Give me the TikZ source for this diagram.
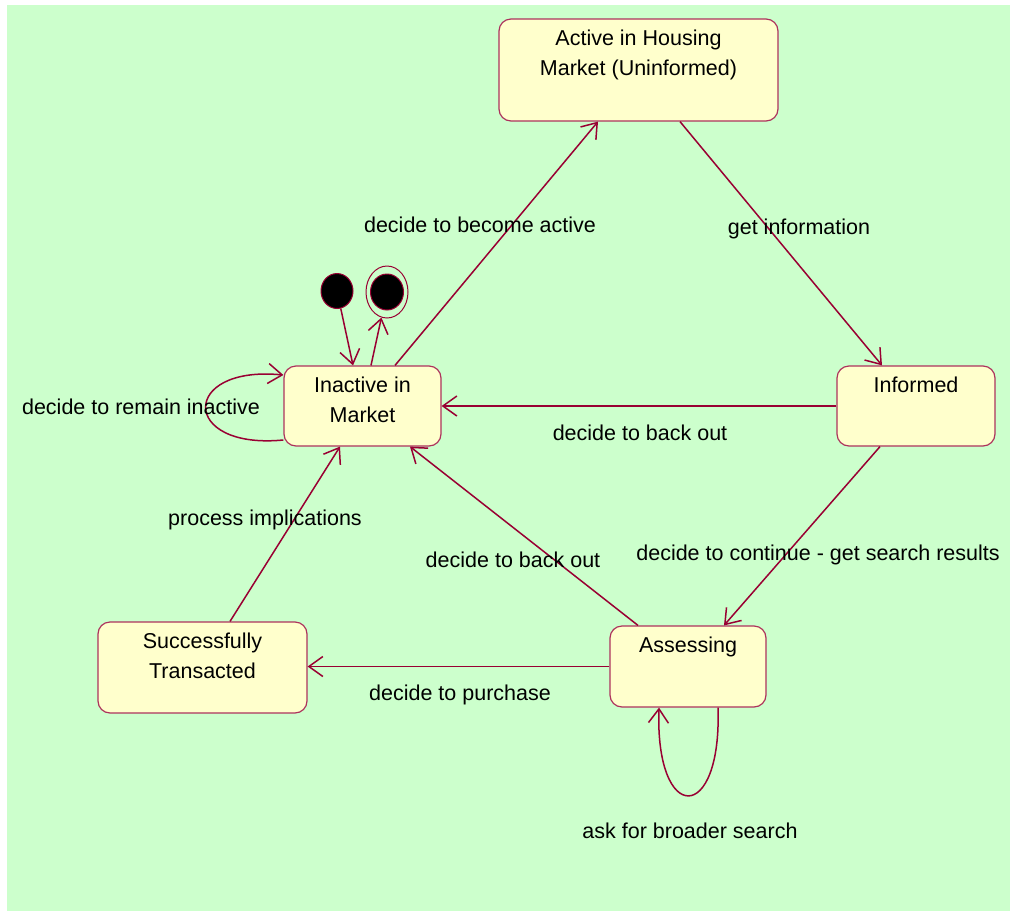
\documentclass[tikz,border=0pt]{standalone}
\usepackage{fontspec}
\setmainfont{Liberation Sans}
\usetikzlibrary{arrows.meta,calc,positioning,shapes.geometric}
\definecolor{bggreen}{RGB}{204,255,204}
\definecolor{statefill}{RGB}{255,255,204}
\definecolor{edgered}{RGB}{153,0,51}
\newcommand{\stbox}[3]{\parbox[t][#2pt][t]{#1pt}{\centering\rule{0pt}{26pt}#3}}

\begin{document}
\begin{tikzpicture}[x=1pt,y=-1pt,
    state/.style={draw=edgered!80!white,fill=statefill,rounded corners=12pt,inner sep=0pt,line width=1.2pt},
    trans/.style={edgered,line width=1.5pt,-{Straight Barb[length=14pt,width=20pt,line width=1.5pt]}},
    lbl/.style={text height=15pt,text depth=4pt,inner sep=0pt},
    font=\fontsize{21.5}{30}\selectfont]
    \useasboundingbox (0,0) rectangle (1010,911);
    \fill[bggreen] (7,5) rectangle (1010,911);
    % states
    \node[state] (active) at (638.5,70) {\stbox{279}{102}{Active in Housing\\Market (Uninformed)}};
    \node[state] (inactive) at (362.5,406) {\stbox{157}{80}{Inactive in\\Market}};
    \node[state] (informed) at (916,406) {\stbox{158}{80}{Informed}};
    \node[state] (assess) at (688,666.5) {\stbox{156}{81}{Assessing}};
    \node[state] (succ) at (202.5,667.5) {\stbox{209}{91}{Successfully\\Transacted}};
    \node[ellipse,draw=edgered,fill=black,line width=1pt,inner sep=0pt,minimum width=32pt,minimum height=35pt] (init) at (337,291) {};
    \node[ellipse,draw=edgered,line width=1pt,inner sep=0pt,minimum width=42pt,minimum height=52pt,
        path picture={\fill[black,draw=edgered] (path picture bounding box.center) ellipse [x radius=16.5pt,y radius=18pt];}] (final) at (387,292) {};
    % transitions
    \draw[trans] (init) -- ($(inactive.north)+(-9.5,0)$);
    \draw[trans] ($(inactive.north)+(8.5,0)$) -- (final);
    \draw[trans] ($(inactive.north)+(32.5,0)$) -- ($(active.south)+(-40.5,0)$);
    \draw[trans] ($(active.south)+(41.5,0)$) -- ($(informed.north)+(-34,0)$);
    \draw[trans] (informed.west) -- (inactive.east);
    \draw[trans] ($(informed.south)+(-36,0)$) -- ($(assess.north)+(36,0)$);
    \draw[trans] ($(assess.north)+(-50,0)$) -- ($(inactive.south)+(47.5,0)$);
    \draw[trans] (assess.west) -- (succ.east |- assess.west);
    \draw[trans] ($(succ.north)+(27.5,0)$) -- ($(inactive.south)+(-22.5,0)$);
    \draw[trans] ($(inactive.west)+(0,34)$) .. controls (180,450) and (180,365) .. ($(inactive.west)+(0,-31)$);
    \draw[trans] ($(assess.south)+(30,0)$) .. controls (722,825) and (655,825) .. ($(assess.south)+(-29,0)$);
    % labels
    \node[lbl] (lbecome) at (480,227) {decide to become active};
    \node[lbl] (lget) at (799,229) {get information};
    \node[lbl] (lremain) at (141,409) {decide to remain inactive};
    \node[lbl] (lbackinf) at (640,435) {decide to back out};
    \node[lbl] (lprocess) at (265,520) {process implications};
    \node[lbl] (lbackass) at (513,562) {decide to back out};
    \node[lbl] (lcontinue) at (818,555) {decide to continue - get search results};
    \node[lbl] (lpurchase) at (460,695) {decide to purchase};
    \node[lbl] (lbroader) at (690,833) {ask for broader search};
\end{tikzpicture}
\end{document}
